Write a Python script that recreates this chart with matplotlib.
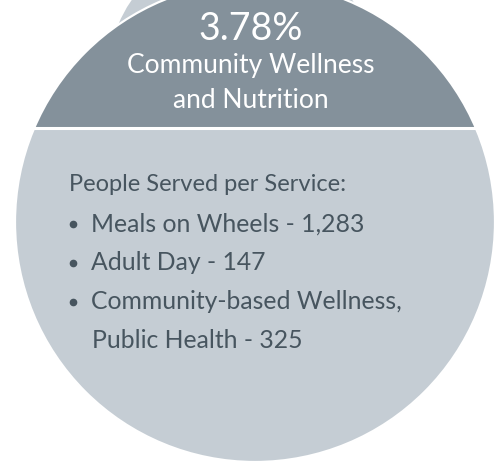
import matplotlib
matplotlib.use("Agg")
import matplotlib.pyplot as plt
from matplotlib.patches import Circle, Rectangle

# data
share = 3.78
program = ["Community Wellness", "and Nutrition"]
heading = "People Served per Service:"
services = ["Meals on Wheels", "Adult Day", "Community-based Wellness,\nPublic Health"]
people = [1283, 147, 325]

dark = "#84919b"
light = "#c5cdd4"
ink = "#47555f"
font = "Lato"

fig = plt.figure(figsize=(4.96, 4.64), dpi=100)
ax = fig.add_axes([0, 0, 1, 1])
ax.set_xlim(0, 496)
ax.set_ylim(464, 0)
ax.axis("off")

# neighbour circle peeking in behind
ax.add_patch(Circle((242, 77), 134, facecolor=light, edgecolor="none", zorder=1))

cx, cy, r = 255, 223, 240
body = Circle((cx, cy), r, facecolor=light, edgecolor="none", zorder=2)
ax.add_patch(body)
top = Rectangle((0, -50), 496, 178, facecolor=dark, edgecolor="none", zorder=3)
ax.add_patch(top)
top.set_clip_path(body)
sep = ax.axhline(129.2, color="white", lw=2.2, zorder=4)
sep.set_clip_path(body)
ax.add_patch(Circle((cx, cy), r, facecolor="none", edgecolor="white", lw=1.6, zorder=5))

ax.text(251, 29, f"{share:.2f}%", ha="center", va="center", color="white",
        fontsize=27, family=font, zorder=6)
ax.text(251, 66, program[0], ha="center", va="center", color="white",
        fontsize=19, family=font, zorder=6)
ax.text(251, 101, program[1], ha="center", va="center", color="white",
        fontsize=19, family=font, zorder=6)

ax.text(69, 185, heading, ha="left", va="center", color=ink,
        fontsize=17, family=font, zorder=6)
y = 224
for name, n in zip(services, people):
    lines = f"{name} - {n:,}".split("\n")
    ax.plot(73, y + 1, "o", color=ink, ms=4.5, zorder=6)
    for k, line in enumerate(lines):
        ax.text(91 + k * 1, y + k * 39, line, ha="left", va="center", color=ink,
                fontsize=17.8, family=font, zorder=6)
    y += 39 * len(lines)

fig.savefig("out.png", dpi=100)
